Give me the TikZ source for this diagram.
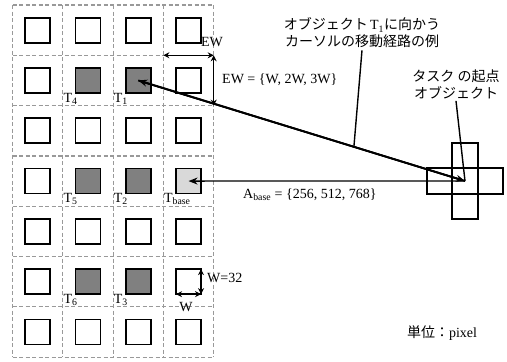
\documentclass[tikz,border=0pt]{standalone}
\usepackage{fontspec}
\setmainfont{Liberation Serif}
\newfontfamily\cjk{Noto Sans CJK JP}
\usetikzlibrary{arrows.meta,calc}
\begin{document}
\begin{tikzpicture}[x=1pt,y=-1pt,
  gridline/.style={draw=gray!80, dash pattern=on 4pt off 2.5pt, line width=1.2pt},
  sq/.style={draw=black, line width=1.8pt, minimum size=25pt, inner sep=0pt, outer sep=0pt, fill=white},
  dark/.style={sq, fill=gray},
  light/.style={sq, fill=gray!30},
  lbl/.style={font=\fontsize{14}{16}\selectfont, inner sep=0pt},
  jp/.style={font=\fontsize{14}{17}\selectfont\cjk, inner sep=2pt, align=center},
  arm/.style={draw=black, line width=1.4pt, inner sep=0pt, outer sep=0pt},
  tip/.style={-{Stealth[length=9pt,width=7pt]}},
  dim/.style={line width=1.5pt, {Stealth[length=6pt,width=6pt]}-{Stealth[length=6pt,width=6pt]}}
]
\useasboundingbox (0,0) rectangle (507,362);
% grid
\foreach \c in {0,...,4} \draw[gridline] (12.5+50.3*\c,5) -- (12.5+50.3*\c,357.1);
\foreach \r in {0,...,7} \draw[gridline] (12.5,5+50.3*\r) -- (213.7,5+50.3*\r);
% squares
\foreach \r in {0,...,6} \foreach \c in {0,...,3}
  \node[sq] (s\r\c) at (37.65+50.3*\c, 30.15+50.3*\r) {};
\node[dark] (s11) at (37.65+50.3, 30.15+50.3) {};
\node[dark] (s12) at (37.65+100.6, 30.15+50.3) {};
\node[dark] (s31) at (37.65+50.3, 30.15+150.9) {};
\node[dark] (s32) at (37.65+100.6, 30.15+150.9) {};
\node[light] (s33) at (37.65+150.9, 30.15+150.9) {};
\node[dark] (s51) at (37.65+50.3, 30.15+251.5) {};
\node[dark] (s52) at (37.65+100.6, 30.15+251.5) {};
% T labels
\node[lbl, anchor=base west] (lT4) at (63.3,102) {T\textsubscript{4}};
\node[lbl, anchor=base west] (lT1) at (113.6,102) {T\textsubscript{1}};
\node[lbl, anchor=base west] (lT5) at (63.3,202.6) {T\textsubscript{5}};
\node[lbl, anchor=base west] (lT2) at (113.6,202.6) {T\textsubscript{2}};
\node[lbl, anchor=base west] (lTb) at (163.9,202.6) {T\textsubscript{base}};
\node[lbl, anchor=base west] (lT6) at (63.3,303.2) {T\textsubscript{6}};
\node[lbl, anchor=base west] (lT3) at (113.6,303.2) {T\textsubscript{3}};
% cross
\node[arm, minimum width=26pt, minimum height=76pt] (crossv) at (465,181) {};
\node[arm, minimum width=76pt, minimum height=26pt] (crossh) at (465,181) {};
% arrows
\draw[line width=1.9pt, tip] (crossh.center) -- (s12.center);
\draw[line width=1.9pt, tip] (s12.center) -- (crossh.center);
\draw[line width=1.4pt, tip] (crossh.center) -- (s33.center);
% EW dims
\coordinate (ewA) at (163.4,55.3);
\coordinate (ewB) at (213.7,55.3);
\coordinate (ewC) at (213.7,105.6);
\draw[dim] (ewA) -- (ewB);
\draw[dim] (ewB) -- (ewC);
\node[lbl] (ew) at (212,42) {EW};
\node[lbl, anchor=west] (ewset) at (222,80) {EW = \{W, 2W, 3W\}};
% W dims
\draw[dim] (s53.north east) -- (s53.south east);
\draw[dim] (s53.south west) -- (s53.south east);
\node[lbl, anchor=west] (w32) at (207,278) {W=32};
\node[lbl] (wl) at (186,307) {W};
% Abase
\node[lbl, anchor=west] (abase) at (243,195) {A\textsubscript{base} = \{256, 512, 768\}};
% Japanese texts
\node[jp] (txt1) at (362,33) {オブジェクト\,{\rmfamily\fontsize{14}{16}\selectfont T\textsubscript{1}}に向かう\\カーソルの移動経路の例};
\coordinate (p1) at ($(s12.center)!0.66!(crossh.center)$);
\draw[line width=1.4pt] (txt1.south) -- (p1);
\node[jp] (txt2) at (456,84) {タスク の起点\\オブジェクト};
\draw[line width=1.4pt] (txt2.south) -- (crossh.center);
\node[jp, anchor=center] (unit) at (442,333) {単位：{\rmfamily\fontsize{14}{16}\selectfont pixel}};
\end{tikzpicture}
\end{document}
